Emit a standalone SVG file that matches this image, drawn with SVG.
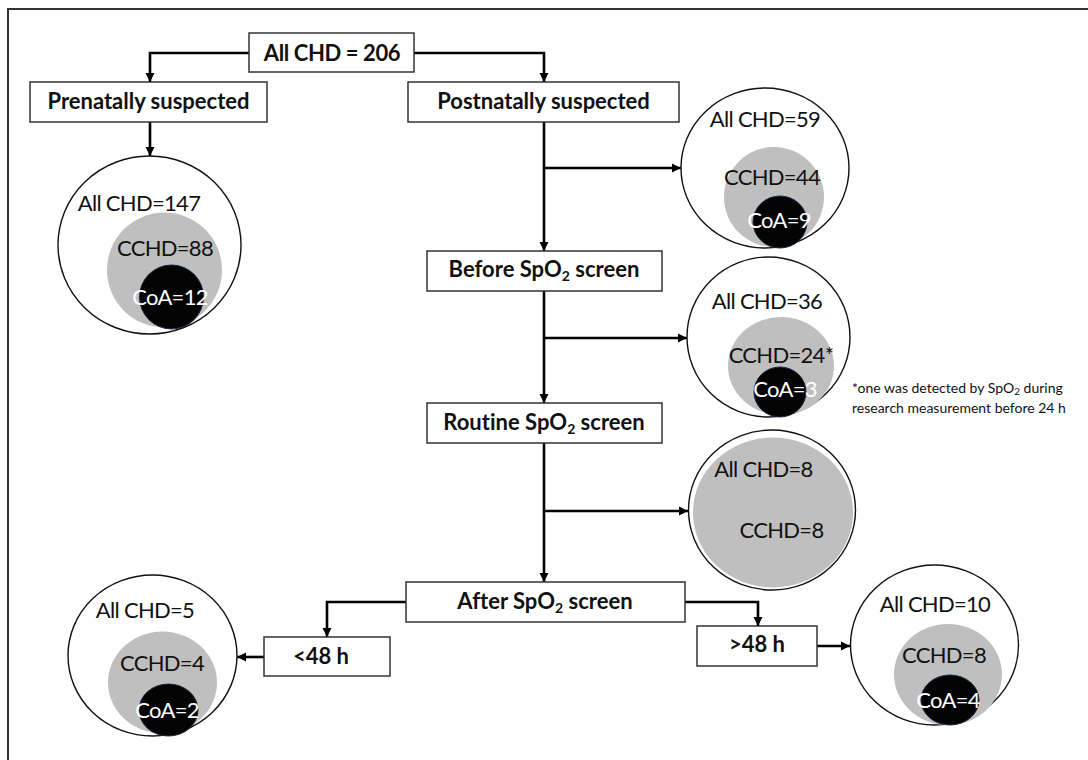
<svg xmlns="http://www.w3.org/2000/svg" width="1088" height="760" viewBox="0 0 1088 760">
<defs>
<marker id="ah" markerUnits="userSpaceOnUse" markerWidth="10" markerHeight="10" refX="9" refY="5" orient="auto">
<path d="M0,0.5 L9,5 L0,9.5 z" fill="#000"/>
</marker>
<style>
text{font-variant-ligatures:none}
.box{fill:#fff;stroke:#333;stroke-width:1.5}
.bt{font-family:Lato,"Liberation Sans",sans-serif;font-weight:bold;font-size:22px;fill:#111;text-anchor:middle}
.con{fill:none;stroke:#000;stroke-width:2.6;marker-end:url(#ah)}
.outer{fill:#fff;stroke:#111;stroke-width:1.4}
.gray{fill:#bfbfbf}
.blk{fill:#030303;stroke:#1b2545;stroke-width:1}
.ct{font-family:Lato,"Liberation Sans",sans-serif;font-size:22px;letter-spacing:-0.7px;fill:#111;text-anchor:middle}
.wt{font-family:Lato,"Liberation Sans",sans-serif;font-size:22px;letter-spacing:-0.7px;fill:#fff;text-anchor:middle}
.fn{font-family:Lato,"Liberation Sans",sans-serif;font-size:14px;fill:#111}
</style>
</defs>
<rect x="0" y="0" width="1088" height="760" fill="#fff"/>
<path d="M8,770 L8,9 L1095,9" fill="none" stroke="#333" stroke-width="2"/>

<g id="connectors">
<polyline class="con" points="249,53 150,53 150,82"/>
<polyline class="con" points="414,53 544,53 544,82"/>
<polyline class="con" points="150,122 150,156"/>
<polyline class="con" points="544,122 544,251"/>
<polyline class="con" points="544,168 681,168"/>
<polyline class="con" points="544,291 544,403"/>
<polyline class="con" points="544,338 687,338"/>
<polyline class="con" points="544,443 544,582"/>
<polyline class="con" points="544,511 688,511"/>
<polyline class="con" points="406,602 327,602 327,637"/>
<polyline class="con" points="264,657 237,657"/>
<polyline class="con" points="685,602 758,602 758,626"/>
<polyline class="con" points="817,646 850,646"/>
</g>

<g id="n-all">
<rect class="box" x="249" y="33" width="165" height="39"/>
<text class="bt" x="332" y="61" letter-spacing="-0.4">All CHD = 206</text>
</g>
<g id="n-prenatal">
<rect class="box" x="30" y="82" width="237" height="40"/>
<text class="bt" x="148.5" y="109">Prenatally suspected</text>
</g>
<g id="n-postnatal">
<rect class="box" x="408" y="82" width="271" height="40"/>
<text class="bt" x="543.5" y="109">Postnatally suspected</text>
</g>
<g id="n-before">
<rect class="box" x="427" y="251" width="235" height="40"/>
<text class="bt" x="544" y="277">Before SpO<tspan font-size="14" dy="4">2</tspan><tspan dy="-4"> screen</tspan></text>
</g>
<g id="n-routine">
<rect class="box" x="427" y="403" width="235" height="40"/>
<text class="bt" x="544" y="430">Routine SpO<tspan font-size="14" dy="4">2</tspan><tspan dy="-4"> screen</tspan></text>
</g>
<g id="n-after">
<rect class="box" x="406" y="582" width="279" height="40"/>
<text class="bt" x="545" y="609">After SpO<tspan font-size="14" dy="4">2</tspan><tspan dy="-4"> screen</tspan></text>
</g>
<g id="n-lt48">
<rect class="box" x="264" y="637" width="126" height="39"/>
<text class="bt" x="321" y="664">&lt;48 h</text>
</g>
<g id="n-gt48">
<rect class="box" x="697" y="626" width="120" height="40"/>
<text class="bt" x="757" y="652">&gt;48 h</text>
</g>

<g id="c-prenatal">
<ellipse class="outer" cx="149.5" cy="245" rx="91.5" ry="89"/>
<circle class="gray" cx="164.5" cy="270" r="57.5"/>
<circle class="blk" cx="171.5" cy="297" r="32"/>
<text class="ct" x="139" y="211">All CHD=147</text>
<text class="ct" x="165" y="256">CCHD=88</text>
<text class="wt" x="170" y="305">CoA=12</text>
</g>
<g id="c-post">
<ellipse class="outer" cx="765" cy="168" rx="84" ry="80"/>
<circle class="gray" cx="774" cy="197" r="50"/>
<ellipse class="blk" cx="780" cy="222" rx="27" ry="26"/>
<text class="ct" x="765" y="127">All CHD=59</text>
<text class="ct" x="772" y="185">CCHD=44</text>
<text class="wt" x="779" y="228">CoA=9</text>
</g>
<g id="c-before">
<ellipse class="outer" cx="768.5" cy="337" rx="81.5" ry="80"/>
<ellipse class="gray" cx="781" cy="366" rx="53" ry="49"/>
<ellipse class="blk" cx="780" cy="392" rx="26" ry="25"/>
<text class="ct" x="767" y="309">All CHD=36</text>
<text class="ct" x="781" y="363">CCHD=24*</text>
<text class="wt" x="785" y="397">CoA=3</text>
<text class="fn" x="852" y="393">*one was detected by SpO<tspan font-size="10" dy="2">2</tspan><tspan dy="-2"> during</tspan></text>
<text class="fn" x="852" y="413">research measurement before 24 h</text>
</g>
<g id="c-routine">
<ellipse class="outer" cx="772" cy="510" rx="83.5" ry="80"/>
<ellipse class="gray" cx="773" cy="512.5" rx="80" ry="75"/>
<text class="ct" x="763.5" y="477">All CHD=8</text>
<text class="ct" x="781.5" y="538">CCHD=8</text>
</g>
<g id="c-lt48">
<ellipse class="outer" cx="152.5" cy="655.5" rx="84.5" ry="80.5"/>
<ellipse class="gray" cx="162.5" cy="682.5" rx="54.5" ry="51"/>
<ellipse class="blk" cx="168.5" cy="710" rx="29.5" ry="26"/>
<text class="ct" x="145" y="618">All CHD=5</text>
<text class="ct" x="162" y="671">CCHD=4</text>
<text class="wt" x="167" y="718">CoA=2</text>
</g>
<g id="c-gt48">
<ellipse class="outer" cx="934.5" cy="645" rx="84" ry="80"/>
<ellipse class="gray" cx="948" cy="674.5" rx="54" ry="50.5"/>
<ellipse class="blk" cx="950" cy="700" rx="29" ry="25"/>
<text class="ct" x="935" y="612">All CHD=10</text>
<text class="ct" x="944" y="663">CCHD=8</text>
<text class="wt" x="948" y="708">CoA=4</text>
</g>
</svg>
